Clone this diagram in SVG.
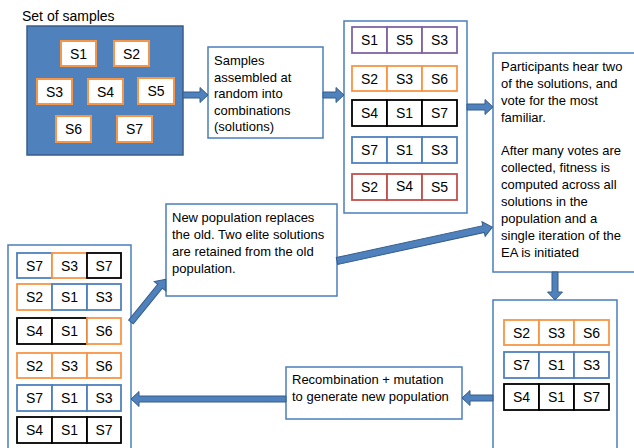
<svg xmlns="http://www.w3.org/2000/svg" width="634" height="448" viewBox="0 0 634 448">
<style>
text{font-family:"Liberation Sans",Arial,sans-serif;fill:#000}
.t{font-size:13px}
.c{font-size:14px;text-anchor:middle}
.box{fill:#fff;stroke:#4A7EBB;stroke-width:1.5}
.smp{fill:#fff;stroke:#F79646;stroke-width:2}
.or{fill:#fff;stroke:#F79646;stroke-width:1.8}
.bl{fill:#fff;stroke:#4F81BD;stroke-width:1.8}
.bk{fill:#fff;stroke:#000;stroke-width:1.8}
.pu{fill:#fff;stroke:#8064A2;stroke-width:1.8}
.rd{fill:#fff;stroke:#C0504D;stroke-width:1.8}
.arr{fill:#4F81BD;stroke:#385D8A;stroke-width:1}
</style>
<rect width="634" height="448" fill="#fff"/>

<g id="set-of-samples">
<text x="22" y="21" style="font-size:14px">Set of samples</text>
<rect x="27" y="26" width="156" height="129" fill="#4F81BD" stroke="#385D8A" stroke-width="1.5"/>
<rect class="smp" x="61" y="41" width="35" height="25"/><text class="c" x="78.5" y="58.5">S1</text>
<rect class="smp" x="114" y="41" width="35" height="25"/><text class="c" x="131.5" y="58.5">S2</text>
<rect class="smp" x="37" y="79" width="35" height="25"/><text class="c" x="54.5" y="96.5">S3</text>
<rect class="smp" x="88" y="79" width="35" height="25"/><text class="c" x="105.5" y="96.5">S4</text>
<rect class="smp" x="138" y="78" width="36" height="26"/><text class="c" x="156" y="96">S5</text>
<rect class="smp" x="56" y="116" width="35" height="26"/><text class="c" x="73.5" y="134">S6</text>
<rect class="smp" x="117" y="116" width="35" height="26"/><text class="c" x="134.5" y="134">S7</text>
</g>

<g id="assemble">
<rect class="box" x="208" y="47" width="115" height="91"/>
<text class="t" x="214" y="65">Samples</text>
<text class="t" x="214" y="81.5">assembled at</text>
<text class="t" x="214" y="98">random into</text>
<text class="t" x="214" y="114.5">combinations</text>
<text class="t" x="214" y="131">(solutions)</text>
</g>

<g id="population">
<rect class="box" x="344" y="21" width="123" height="192"/>
<rect class="pu" x="352" y="27" width="35" height="26"/><rect class="pu" x="387" y="27" width="35" height="26"/><rect class="pu" x="422" y="27" width="35" height="26"/>
<text class="c" x="369.5" y="45">S1</text><text class="c" x="404.5" y="45">S5</text><text class="c" x="439.5" y="45">S3</text>
<rect class="or" x="352" y="66" width="35" height="25"/><rect class="or" x="387" y="66" width="35" height="25"/><rect class="or" x="422" y="66" width="35" height="25"/>
<text class="c" x="369.5" y="83.5">S2</text><text class="c" x="404.5" y="83.5">S3</text><text class="c" x="439.5" y="83.5">S6</text>
<rect class="bk" x="352" y="100" width="35" height="26"/><rect class="bk" x="387" y="100" width="35" height="26"/><rect class="bk" x="422" y="100" width="35" height="26"/>
<text class="c" x="369.5" y="118">S4</text><text class="c" x="404.5" y="118">S1</text><text class="c" x="439.5" y="118">S7</text>
<rect class="bl" x="352" y="137" width="35" height="26"/><rect class="bl" x="387" y="137" width="35" height="26"/><rect class="bl" x="422" y="137" width="35" height="26"/>
<text class="c" x="369.5" y="155">S7</text><text class="c" x="404.5" y="155">S1</text><text class="c" x="439.5" y="155">S3</text>
<rect class="rd" x="352" y="174" width="35" height="26"/><rect class="rd" x="387" y="174" width="35" height="26"/><rect class="rd" x="422" y="174" width="35" height="26"/>
<text class="c" x="369.5" y="192">S2</text><text class="c" x="404.5" y="191">S4</text><text class="c" x="439.5" y="192">S5</text>
</g>

<g id="vote">
<rect class="box" x="493" y="53" width="145" height="219"/>
<text class="t" x="501" y="71">Participants hear two</text>
<text class="t" x="501" y="88">of the solutions, and</text>
<text class="t" x="501" y="104.5">vote for the most</text>
<text class="t" x="501" y="121.5">familiar.</text>
<text class="t" x="501" y="155">After many votes are</text>
<text class="t" x="501" y="172">collected, fitness is</text>
<text class="t" x="501" y="189">computed across all</text>
<text class="t" x="501" y="206">solutions in the</text>
<text class="t" x="501" y="223">population and a</text>
<text class="t" x="501" y="240">single iteration of the</text>
<text class="t" x="501" y="257">EA is initiated</text>
</g>

<g id="selected">
<rect class="box" x="493" y="300" width="124" height="150"/>
<rect class="or" x="504" y="320" width="35" height="25"/><rect class="or" x="539" y="320" width="35" height="25"/><rect class="or" x="574" y="320" width="35" height="25"/>
<text class="c" x="521.5" y="337.5">S2</text><text class="c" x="556.5" y="337.5">S3</text><text class="c" x="591.5" y="337.5">S6</text>
<rect class="bl" x="504" y="352" width="35" height="26"/><rect class="bl" x="539" y="352" width="35" height="26"/><rect class="bl" x="574" y="352" width="35" height="26"/>
<text class="c" x="521.5" y="370">S7</text><text class="c" x="556.5" y="370">S1</text><text class="c" x="591.5" y="370">S3</text>
<rect class="bk" x="504" y="384" width="35" height="26"/><rect class="bk" x="539" y="384" width="35" height="26"/><rect class="bk" x="574" y="384" width="35" height="26"/>
<text class="c" x="521.5" y="402">S4</text><text class="c" x="556.5" y="402">S1</text><text class="c" x="591.5" y="402">S7</text>
</g>

<g id="recombination">
<rect class="box" x="286" y="367" width="176" height="52"/>
<text class="t" x="292" y="384">Recombination + mutation</text>
<text class="t" x="292" y="401">to generate new population</text>
</g>

<g id="new-population">
<rect class="box" x="8" y="245" width="123" height="206"/>
<rect class="bl" x="17" y="253" width="35" height="25"/><rect class="or" x="52" y="253" width="35" height="25"/><rect class="bk" x="87" y="253" width="34" height="25"/>
<text class="c" x="34.5" y="270.5">S7</text><text class="c" x="69.5" y="270.5">S3</text><text class="c" x="104" y="270.5">S7</text>
<rect class="or" x="17" y="284" width="35" height="26"/><rect class="bl" x="52" y="284" width="35" height="26"/><rect class="bl" x="87" y="284" width="34" height="26"/>
<text class="c" x="34.5" y="302">S2</text><text class="c" x="69.5" y="302">S1</text><text class="c" x="104" y="302">S3</text>
<rect class="bk" x="17" y="318" width="35" height="26"/><rect class="bk" x="52" y="318" width="35" height="26"/><rect class="or" x="87" y="318" width="34" height="26"/>
<text class="c" x="34.5" y="336">S4</text><text class="c" x="69.5" y="336">S1</text><text class="c" x="104" y="336">S6</text>
<rect class="or" x="17" y="353" width="35" height="25"/><rect class="or" x="52" y="353" width="35" height="25"/><rect class="or" x="87" y="353" width="34" height="25"/>
<text class="c" x="34.5" y="370.5">S2</text><text class="c" x="69.5" y="370.5">S3</text><text class="c" x="104" y="370.5">S6</text>
<rect class="bl" x="17" y="385" width="35" height="26"/><rect class="bl" x="52" y="385" width="35" height="26"/><rect class="bl" x="87" y="385" width="34" height="26"/>
<text class="c" x="34.5" y="403">S7</text><text class="c" x="69.5" y="403">S1</text><text class="c" x="104" y="403">S3</text>
<rect class="bk" x="17" y="417" width="35" height="26"/><rect class="bk" x="52" y="417" width="35" height="26"/><rect class="bk" x="87" y="417" width="34" height="26"/>
<text class="c" x="34.5" y="435">S4</text><text class="c" x="69.5" y="435">S1</text><text class="c" x="104" y="435">S7</text>
</g>

<g id="replace">
<rect class="box" x="166" y="204" width="171" height="92"/>
<text class="t" x="172" y="222">New population replaces</text>
<text class="t" x="172" y="239">the old. Two elite solutions</text>
<text class="t" x="172" y="256">are retained from the old</text>
<text class="t" x="172" y="273">population.</text>
</g>

<g id="connectors" class="arr">
<polygon transform="translate(183,95)" points="0,-3 17,-3 17,-7.5 25,0 17,7.5 17,3 0,3"/>
<polygon transform="translate(323,95)" points="0,-3 13,-3 13,-7.5 21,0 13,7.5 13,3 0,3"/>
<polygon transform="translate(467,107)" points="0,-3 18,-3 18,-7.5 26,0 18,7.5 18,3 0,3"/>
<polygon transform="translate(555,272) rotate(90)" points="0,-3 20,-3 20,-7.5 28,0 20,7.5 20,3 0,3"/>
<polygon transform="translate(493,398) rotate(180)" points="0,-3 23,-3 23,-7.5 31,0 23,7.5 23,3 0,3"/>
<polygon transform="translate(286,399) rotate(180)" points="0,-3 147,-3 147,-7.5 155,0 147,7.5 147,3 0,3"/>
<polygon transform="translate(131,322) rotate(-50.9)" points="0,-3 46,-3 46,-7.5 55,0 46,7.5 46,3 0,3"/>
<polygon transform="translate(337,261) rotate(-12.3)" points="0,-3.5 150,-3.5 150,-7.5 159,0 150,7.5 150,3.5 0,3.5"/>
</g>
</svg>
